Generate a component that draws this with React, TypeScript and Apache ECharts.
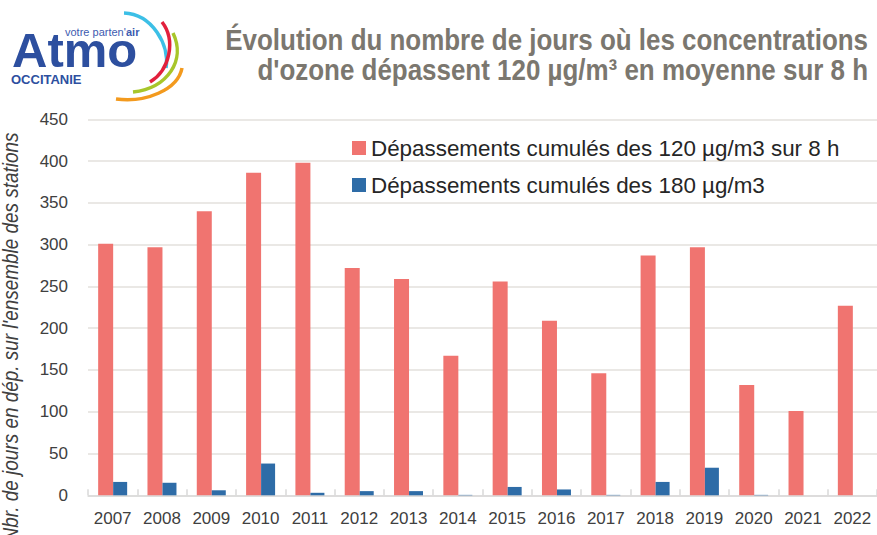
import React, { useEffect, useRef } from "react";
import * as echarts from "echarts";

const years = ["2007","2008","2009","2010","2011","2012","2013","2014","2015","2016","2017","2018","2019","2020","2021","2022"];
const dep120 = [301, 297, 340, 386, 398, 272, 259, 167, 256, 209, 146, 287, 297, 132, 101, 227];
const dep180 = [16, 15, 6, 38, 3, 5, 5, 0.5, 10, 7, 0.5, 16, 33, 0.5, 0, 0];
const seriesNames = ["Dépassements cumulés des 120 µg/m3 sur 8 h", "Dépassements cumulés des 180 µg/m3"];
const titleLines = ["Évolution du nombre de jours où les concentrations", "d'ozone dépassent 120 µg/m³ en moyenne sur 8 h"];
const yAxisName = "Nbr. de jours en dép. sur l'ensemble des stations";

const FONT = "'Liberation Sans', Arial, sans-serif";

export default function App() {
  const ref = useRef<HTMLDivElement>(null);
  useEffect(() => {
    const chart = echarts.init(ref.current!, null, { renderer: "svg" });
    chart.setOption({
      animation: false,
      backgroundColor: "#ffffff",
      grid: { left: 88, right: 0, top: 119.3, bottom: 39.7, containLabel: false },
      legend: {
        orient: "vertical",
        left: 352,
        top: 137,
        padding: 0,
        itemWidth: 14,
        itemHeight: 14,
        itemGap: 15,
        icon: "rect",
        textStyle: { fontFamily: FONT, fontSize: 22.4, color: "#262626" },
        data: seriesNames,
      },
      xAxis: {
        type: "category",
        data: years,
        axisLine: { lineStyle: { color: "#d9d9d9", width: 1.5 } },
        axisTick: { show: true, inside: true, length: 6, lineStyle: { color: "#d9d9d9", width: 1.5 } },
        axisLabel: { fontFamily: FONT, fontSize: 17, color: "#404040", margin: 15, interval: 0 },
      },
      yAxis: {
        type: "value",
        min: 0,
        max: 450,
        interval: 50,
        axisLine: { show: false },
        axisTick: { show: false },
        splitLine: { lineStyle: { color: "#e3e0dc", width: 1.5 } },
        axisLabel: { fontFamily: FONT, fontSize: 17, color: "#404040", margin: 20 },
      },
      series: [
        { name: seriesNames[0], type: "bar", data: dep120, itemStyle: { color: "#f07470" }, barWidth: 15, barGap: "0%" },
        { name: seriesNames[1], type: "bar", data: dep180, itemStyle: { color: "#2e6ca7" }, barWidth: 14, barGap: "0%" },
      ],
      graphic: [
        {
          type: "text",
          x: 868,
          y: 40,
          scaleX: 0.895,
          style: { text: titleLines[0], fontFamily: FONT, fontWeight: "bold", fontSize: 29, fill: "#7b776f", align: "right", verticalAlign: "middle" },
        },
        {
          type: "text",
          x: 868,
          y: 70,
          scaleX: 0.895,
          style: { text: titleLines[1], fontFamily: FONT, fontWeight: "bold", fontSize: 29, fill: "#7b776f", align: "right", verticalAlign: "middle" },
        },
        {
          type: "text",
          x: 10,
          y: 337,
          rotation: Math.PI / 2,
          scaleX: 0.861,
          style: { text: yAxisName, fontFamily: FONT, fontStyle: "italic", fontSize: 22, fill: "#404040", align: "center", verticalAlign: "middle" },
        },
        // logo
        {
          type: "text",
          x: 12,
          y: 74,
          style: { text: "Atmo", fontFamily: FONT, fontWeight: "bold", fontSize: 49, fill: "#2d4f9f", verticalAlign: "bottom", align: "left" },
        },
        {
          type: "text",
          x: 65,
          y: 37,
          style: { text: "votre parten'", fontFamily: FONT, fontSize: 11, fill: "#3d5bb0", verticalAlign: "bottom" },
        },
        {
          type: "text",
          x: 126,
          y: 37,
          style: { text: "air", fontFamily: FONT, fontWeight: "bold", fontSize: 11, fill: "#3d5bb0", verticalAlign: "bottom" },
        },
        {
          type: "text",
          x: 11,
          y: 86,
          style: { text: "OCCITANIE", fontFamily: FONT, fontWeight: "bold", fontSize: 13, fill: "#2d4f9f", verticalAlign: "bottom" },
        },
        {
          type: "bezierCurve",
          shape: { x1: 124, y1: 13, cpx1: 152, cpy1: 14, cpx2: 170, cpy2: 45, x2: 166, y2: 68 },
          style: { stroke: "#3cbfe6", lineWidth: 3.5, fill: null },
        },
        {
          type: "bezierCurve",
          shape: { x1: 162, y1: 22, cpx1: 176, cpy1: 40, cpx2: 170, cpy2: 70, x2: 150, y2: 82 },
          style: { stroke: "#e2203c", lineWidth: 3.5, fill: null },
        },
        {
          type: "bezierCurve",
          shape: { x1: 173, y1: 33, cpx1: 186, cpy1: 60, cpx2: 168, cpy2: 88, x2: 133, y2: 92 },
          style: { stroke: "#a8c62a", lineWidth: 3.5, fill: null },
        },
        {
          type: "bezierCurve",
          shape: { x1: 182, y1: 68, cpx1: 178, cpy1: 90, cpx2: 145, cpy2: 103, x2: 116, y2: 99 },
          style: { stroke: "#f39a1e", lineWidth: 3.5, fill: null },
        },
      ],
    });
    return () => chart.dispose();
  }, []);
  return <div ref={ref} style={{ position: "fixed", left: 0, top: 0, width: 877, height: 535 }} />;
}
